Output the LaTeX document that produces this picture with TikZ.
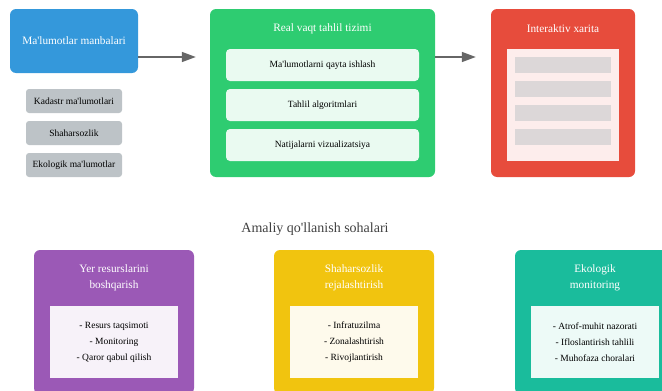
\documentclass[tikz,border=0pt]{standalone}
\usepackage{fontspec}
\setmainfont{Liberation Serif}
\usepackage{xcolor}
\usepackage{tikz}
\usetikzlibrary{arrows.meta, positioning}
\definecolor{srcblue}{HTML}{3498DB}
\definecolor{srcgray}{HTML}{BDC3C7}
\definecolor{sysgreen}{HTML}{2ECC71}
\definecolor{sysgreenlt}{HTML}{EAFAF1}
\definecolor{mapred}{HTML}{E74C3C}
\definecolor{mapredlt}{HTML}{FDEDEC}
\definecolor{mapbar}{HTML}{DCD7D8}
\definecolor{apppurple}{HTML}{9B59B6}
\definecolor{appyellow}{HTML}{F1C40F}
\definecolor{appteal}{HTML}{1ABC9C}
\definecolor{flowgray}{HTML}{666666}
\newcommand{\smallpx}{\fontsize{9.5}{11}\selectfont}
\newcommand{\titlepx}{\fontsize{11.3}{16}\selectfont}
\newcommand{\q}{\textquotesingle}

\begin{document}
\begin{tikzpicture}[x=1pt, y=-1pt, font=\smallpx,
  outerbox/.style={fill=#1, rounded corners=6pt, inner sep=0pt},
  innerbox/.style={fill=#1, inner sep=0pt, align=center},
  boxtitle/.style={text=white, font=\titlepx, align=center},
  flow/.style={-{Triangle[length=14pt, width=10pt]}, line width=1.5pt, draw=flowgray}]
  \useasboundingbox (0,0) rectangle (662,391);
  \clip (0,0) rectangle (662,391);
  % ================================================================
  % top row: sources -> system -> map
  % ================================================================
  \node[outerbox=srcblue, minimum width=128pt, minimum height=64pt, text=white, font=\titlepx] (src) at (74,41) {Ma\q lumotlar manbalari};
  \foreach \y/\n/\t in {101/kad/Kadastr ma\q lumotlari, 133/sha/Shaharsozlik, 165/eko/Ekologik ma\q lumotlar} {
    \node[fill=srcgray, rounded corners=3pt, minimum width=96pt, minimum height=24pt, inner sep=0pt] (\n) at (74,\y) {\t};
  }
  % analysis system ------------------------------------------------
  \node[outerbox=sysgreen, minimum width=225pt, minimum height=168pt] (sys) at (322.5,93) {};
  \node[boxtitle] (systitle) at (322.5,29) {Real vaqt tahlil tizimi};
  \foreach \y/\n/\t in {65/proc/Ma\q lumotlarni qayta ishlash, 105/algo/Tahlil algoritmlari, 145/viz/Natijalarni vizualizatsiya} {
    \node[innerbox=sysgreenlt, rounded corners=4pt, minimum width=193pt, minimum height=32pt] (\n) at (322.5,\y) {\t};
  }
  % interactive map ------------------------------------------------
  \node[outerbox=mapred, minimum width=144pt, minimum height=168pt] (map) at (563,93) {};
  \node[boxtitle] (maptitle) at (563,29) {Interaktiv xarita};
  \node[innerbox=mapredlt, minimum width=112pt, minimum height=112pt] (mapview) at (563,105) {};
  \foreach \y [count=\i] in {65, 89, 113, 137} {
    \node[fill=mapbar, minimum width=96pt, minimum height=16pt, inner sep=0pt] (bar\i) at (563,\y) {};
  }
  % arrows ---------------------------------------------------------
  \coordinate (flowrow) at (0,57);
  \draw[flow, shorten >=14pt] (src.east |- flowrow) -- (sys.west |- flowrow);
  \draw[flow, shorten >=15pt] (sys.east |- flowrow) -- (map.west |- flowrow);
  % ================================================================
  % application areas
  % ================================================================
  \node[text=black!75, font=\fontsize{14}{17}\selectfont] (apptitle) at (315,229) {Amaliy qo\q llanish sohalari};
  \foreach \x/\n/\c/\t/\a/\b/\d in {
      114/land/apppurple/{Yer resurslarini\\boshqarish}/Resurs taqsimoti/Monitoring/Qaror qabul qilish,
      354/city/appyellow/{Shaharsozlik\\rejalashtirish}/Infratuzilma/Zonalashtirish/Rivojlantirish,
      595/eco/appteal/{Ekologik\\monitoring}/Atrof-muhit nazorati/Ifloslantirish tahlili/Muhofaza choralari} {
    \node[outerbox=\c, minimum width=160pt, minimum height=144pt] (\n) at (\x,322) {};
    \node[boxtitle] (\n title) at (\x,278) {\t};
    \node[innerbox=\c!8!white, minimum width=128pt, minimum height=72pt, font=\fontsize{9.5}{16}\selectfont] (\n list) at (\x,342) {- \a\\- \b\\- \d};
  }
\end{tikzpicture}
\end{document}
